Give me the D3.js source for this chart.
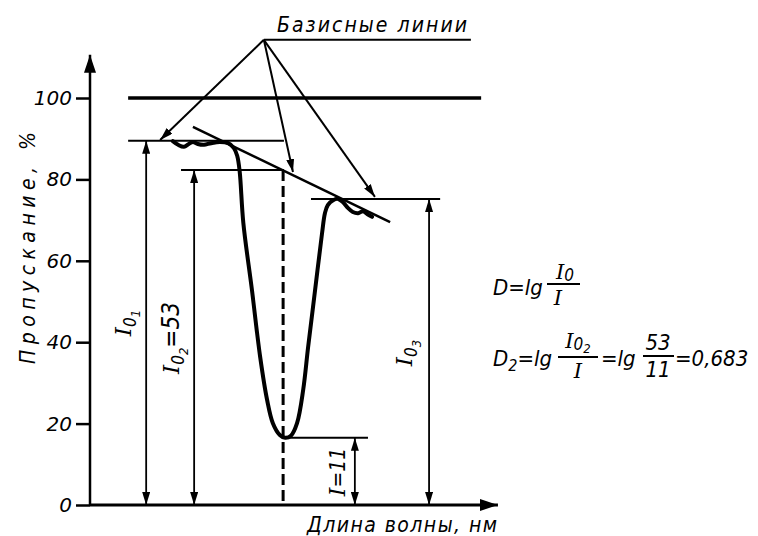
<!DOCTYPE html>
<html>
<head>
<meta charset="utf-8">
<script src="https://cdn.jsdelivr.net/npm/d3@7"></script>
<style>
body { margin: 0; background: #fff; }
text { font-family: "DejaVu Sans Condensed", "DejaVu Sans"; font-style: italic; fill: #000; }
.ser { font-family: "DejaVu Serif"; }
</style>
</head>
<body>
<svg id="chart" width="758" height="536"></svg>
<script>
// x: wavelength, arbitrary units 0..100 ; y: transmission, %
var yTicks = [0, 20, 40, 60, 80, 100];

var spectrumX = [20.2, 21.5, 22.9, 24.1, 25.1, 26.3, 27.8, 29.5, 31.7, 33.7, 35.1, 35.9, 36.5, 37.4,
                 39.5, 41.5, 43.2, 44.6, 46.3, 47.6, 49.0, 50.5, 52.0, 53.2, 54.9, 56.6, 57.3, 58.0,
                 59.3, 60.5, 61.7, 62.9, 64.1, 65.4, 66.6, 67.6, 68.8];
var spectrumY = [89.4, 88.5, 88.0, 88.7, 89.2, 88.7, 88.5, 88.9, 89.2, 88.9, 87.7, 85.8, 82.0, 69.3,
                 52.8, 36.4, 25.8, 20.1, 17.2, 16.5, 17.0, 20.1, 28.3, 38.8, 52.8, 66.8, 71.7, 73.7,
                 74.9, 75.2, 74.4, 73.0, 72.0, 71.7, 72.2, 71.5, 70.8];

// base lines: 100 %, I01, I02, I03, minimum (I)
var lineFrom  = [9.3, 9.3, 22.2, 53.9, 47.1];
var lineTo    = [95.4, 47.3, 47.3, 85.4, 67.8];
var lineLevel = [100, 89.5, 82.3, 75.2, 16.5];
var lineWidth = [3.5, 2, 2, 2, 2];

// tangent base line
var tangentX = [25.1, 73.2];
var tangentY = [92.9, 69.5];

// peak position
var peakX = 47.1;

// double arrows I01, I02, I03, I
var arrowX   = [13.7, 25.4, 82.7, 64.6];
var arrowTop = [89.5, 82.3, 75.2, 16.5];

// leader "Базисные линии"
var leaderX = 42.4, leaderY = 114.3, leaderEnd = 92.9;
var pointerX = [17.1, 49.5, 69.5];
var pointerY = [89.7, 81.8, 75.7];

var svg = d3.select("#chart");
var x = d3.scaleLinear().domain([0, 100]).range([90, 500]);
var y = d3.scaleLinear().domain([0, 100]).range([505, 98]);

var defs = svg.append("defs");
defs.append("marker").attr("id", "big")
    .attr("markerUnits", "userSpaceOnUse")
    .attr("markerWidth", 18).attr("markerHeight", 12)
    .attr("refX", 18).attr("refY", 6).attr("orient", "auto")
  .append("path").attr("d", "M0,0L18,6L0,12z");
defs.append("marker").attr("id", "arr")
    .attr("markerUnits", "userSpaceOnUse")
    .attr("markerWidth", 13).attr("markerHeight", 8)
    .attr("refX", 13).attr("refY", 4).attr("orient", "auto-start-reverse")
  .append("path").attr("d", "M0,0L13,4L0,8z");

// axes
svg.append("line")
    .attr("x1", x(0)).attr("y1", y(0)).attr("x2", x(0)).attr("y2", y(110.6))
    .attr("stroke", "#000").attr("stroke-width", 2.5).attr("marker-end", "url(#big)");
svg.append("line")
    .attr("x1", x(0)).attr("y1", y(0)).attr("x2", x(99.5)).attr("y2", y(0))
    .attr("stroke", "#000").attr("stroke-width", 3).attr("marker-end", "url(#big)");

var yAxis = svg.append("g")
    .attr("transform", "translate(" + x(0) + ",0)")
    .call(d3.axisLeft(y).tickValues(yTicks).tickSize(14).tickPadding(4));
yAxis.select(".domain").remove();
yAxis.selectAll(".tick line").attr("stroke", "#000").attr("stroke-width", 2.5);
yAxis.selectAll(".tick text")
    .style("font-family", "DejaVu Sans").style("font-style", "italic")
    .attr("font-size", 20).attr("fill", "#000");

svg.append("text")
    .attr("transform", "translate(35,248) rotate(-90)")
    .attr("text-anchor", "middle").attr("font-size", 21)
    .attr("textLength", 232).attr("lengthAdjust", "spacing")
    .text("Пропускание, %");
svg.append("text")
    .attr("x", 307).attr("y", 532).attr("font-size", 21)
    .attr("textLength", 190).attr("lengthAdjust", "spacing")
    .text("Длина волны, нм");

// base lines
lineLevel.forEach(function(v, i) {
    svg.append("line")
        .attr("x1", x(lineFrom[i])).attr("x2", x(lineTo[i]))
        .attr("y1", y(v)).attr("y2", y(v))
        .attr("stroke", "#000").attr("stroke-width", lineWidth[i]);
});
svg.append("line")
    .attr("x1", x(tangentX[0])).attr("y1", y(tangentY[0]))
    .attr("x2", x(tangentX[1])).attr("y2", y(tangentY[1]))
    .attr("stroke", "#000").attr("stroke-width", 2.5);

// dashed line through peak
svg.append("line")
    .attr("x1", x(peakX)).attr("x2", x(peakX))
    .attr("y1", y(lineLevel[2])).attr("y2", y(0))
    .attr("stroke", "#000").attr("stroke-width", 3)
    .attr("stroke-dasharray", "11,5");

// spectrum
var pts = spectrumX.map(function(d, i) { return [d, spectrumY[i]]; });
svg.append("path")
    .datum(pts)
    .attr("d", d3.line().x(function(d) { return x(d[0]); }).y(function(d) { return y(d[1]); })
        .curve(d3.curveCatmullRom.alpha(0.5)))
    .attr("fill", "none").attr("stroke", "#000").attr("stroke-width", 4)
    .attr("stroke-linejoin", "round").attr("stroke-linecap", "round");

// double arrows
arrowX.forEach(function(d, i) {
    svg.append("line")
        .attr("x1", x(d)).attr("x2", x(d))
        .attr("y1", y(0)).attr("y2", y(arrowTop[i]))
        .attr("stroke", "#000").attr("stroke-width", 1.8)
        .attr("marker-start", "url(#arr)").attr("marker-end", "url(#arr)");
});

// leader
svg.append("line")
    .attr("x1", x(leaderX)).attr("x2", x(leaderEnd))
    .attr("y1", y(leaderY)).attr("y2", y(leaderY))
    .attr("stroke", "#000").attr("stroke-width", 2);
pointerX.forEach(function(d, i) {
    svg.append("line")
        .attr("x1", x(leaderX)).attr("y1", y(leaderY))
        .attr("x2", x(d)).attr("y2", y(pointerY[i]))
        .attr("stroke", "#000").attr("stroke-width", 2)
        .attr("marker-end", "url(#arr)");
});
svg.append("text")
    .attr("x", 277).attr("y", 32).attr("font-size", 21)
    .attr("textLength", 190).attr("lengthAdjust", "spacing")
    .text("Базисные линии");

// rotated labels
function sublabel(cx, cy, parts) {
    var t = svg.append("text")
        .attr("transform", "translate(" + cx + "," + cy + ") rotate(-90)")
        .attr("text-anchor", "middle");
    parts.forEach(function(p) {
        var s = t.append("tspan").attr("font-size", p[1]).attr("dy", p[2]).text(p[0]);
        if (p[0] === "I") s.attr("class", "ser");
    });
    return t;
}
sublabel(124, 323, [["I", 23, 7], ["0", 17, 5], ["1", 13, 4]]);
sublabel(172, 338, [["I", 23, 7], ["0", 17, 5], ["2", 13, 4], ["=53", 24, -9]]);
sublabel(405, 353, [["I", 23, 7], ["0", 17, 5], ["3", 13, 4]]);
var lab = sublabel(338, 472, [["I", 22, 7], ["=11", 21, 0]]);

// formulas
function txt(px, py, s, size, anchor) {
    return svg.append("text").attr("x", px).attr("y", py)
        .attr("font-size", size).attr("text-anchor", anchor || "start").text(s);
}
function bar(x1, x2, py) {
    svg.append("line").attr("x1", x1).attr("x2", x2).attr("y1", py).attr("y2", py)
        .attr("stroke", "#000").attr("stroke-width", 2);
}
txt(493, 295, "D=lg", 22);
var n1 = svg.append("text").attr("x", 565).attr("y", 279).attr("text-anchor", "middle");
n1.append("tspan").attr("class", "ser").attr("font-size", 21).text("I");
n1.append("tspan").attr("font-size", 17).attr("dy", 2).text("0");
bar(547, 580, 284);
txt(558, 305, "I", 21, "middle").attr("class", "ser");

var d2 = txt(493, 366, "D", 22);
d2.append("tspan").attr("font-size", 16).attr("dy", 5).text("2");
d2.append("tspan").attr("font-size", 22).attr("dy", -5).text("=lg");
var n2 = svg.append("text").attr("x", 578).attr("y", 348).attr("text-anchor", "middle");
n2.append("tspan").attr("class", "ser").attr("font-size", 21).text("I");
n2.append("tspan").attr("font-size", 17).attr("dy", 2).text("0");
n2.append("tspan").attr("font-size", 13).attr("dy", 3).text("2");
bar(558, 598, 357);
txt(578, 378, "I", 21, "middle").attr("class", "ser");
txt(601, 366, "=lg", 22);
txt(658, 350, "53", 22, "middle");
bar(643, 674, 356);
txt(658, 377, "11", 22, "middle");
txt(675, 366, "=0,683", 22);
</script>
</body>
</html>
